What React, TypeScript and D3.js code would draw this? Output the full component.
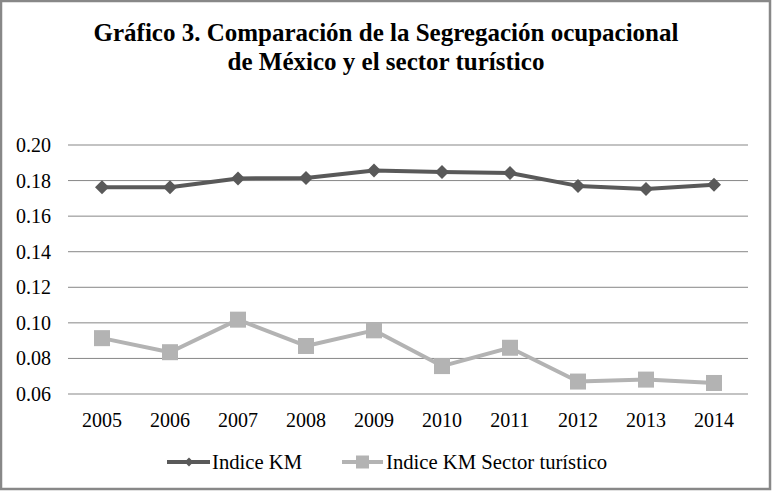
import { useEffect, useRef } from "react"
import * as d3 from "d3"

const years = ["2005", "2006", "2007", "2008", "2009", "2010", "2011", "2012", "2013", "2014"]
const indiceKM = [0.1762, 0.1763, 0.1812, 0.1815, 0.1856, 0.1848, 0.1843, 0.1770, 0.1753, 0.1777]
const indiceKMTurismo = [0.0914, 0.0835, 0.1018, 0.0870, 0.0958, 0.0757, 0.0860, 0.0670, 0.0681, 0.0662]
const yTicks = [0.06, 0.08, 0.10, 0.12, 0.14, 0.16, 0.18, 0.20]

const W = 772
const H = 492
const darkColor = "#595959"
const lightColor = "#b3b3b3"
const font = "Liberation Serif"

export default function App() {
  const svgRef = useRef<SVGSVGElement>(null)

  useEffect(() => {
    if (!svgRef.current) return
    const svg = d3.select(svgRef.current)
    svg.selectAll("*").remove()

    const margin = { top: 145, right: 24, bottom: 98, left: 68 }
    const innerW = W - margin.left - margin.right
    const innerH = H - margin.top - margin.bottom

    svg.append("rect")
      .attr("x", 1).attr("y", 1)
      .attr("width", W - 3).attr("height", H - 4)
      .attr("fill", "#fff")
      .attr("stroke", "#888")
      .attr("stroke-width", 2.5)

    // Title
    const title = svg.append("text")
      .attr("text-anchor", "middle")
      .attr("font-family", font)
      .attr("font-weight", "bold")
      .attr("font-size", 25)
      .attr("fill", "#000")
    title.append("tspan").attr("x", W / 2).attr("y", 41).text("Gráfico 3. Comparación  de la Segregación ocupacional")
    title.append("tspan").attr("x", W / 2).attr("y", 70).text("de México y el sector turístico")

    const g = svg.append("g").attr("transform", `translate(${margin.left},${margin.top})`)

    const x = d3.scaleBand().domain(years).range([0, innerW])
    const y = d3.scaleLinear().domain([0.06, 0.20]).range([innerH, 0])

    // Gridlines
    g.selectAll("line.grid")
      .data(yTicks)
      .enter().append("line")
      .attr("x1", 0).attr("x2", innerW)
      .attr("y1", d => y(d)).attr("y2", d => y(d))
      .attr("stroke", "#878787")
      .attr("stroke-width", 1)

    // Y labels
    g.selectAll("text.ylab")
      .data(yTicks)
      .enter().append("text")
      .attr("x", -17)
      .attr("y", d => y(d) + 7)
      .attr("text-anchor", "end")
      .attr("font-family", font)
      .attr("font-size", 20)
      .text(d => d3.format(".2f")(d))

    // X labels
    g.selectAll("text.xlab")
      .data(years)
      .enter().append("text")
      .attr("x", d => (x(d) ?? 0) + x.bandwidth() / 2)
      .attr("y", innerH + 33)
      .attr("text-anchor", "middle")
      .attr("font-family", font)
      .attr("font-size", 20)
      .text(d => d)

    const cx = (i: number) => (x(years[i]) ?? 0) + x.bandwidth() / 2
    const line = d3.line<number>().x((_, i) => cx(i)).y(d => y(d))

    g.append("path")
      .datum(indiceKMTurismo)
      .attr("d", line)
      .attr("fill", "none")
      .attr("stroke", lightColor)
      .attr("stroke-width", 4)
      .attr("stroke-linejoin", "round")

    g.selectAll("rect.sq")
      .data(indiceKMTurismo)
      .enter().append("rect")
      .attr("x", (_, i) => cx(i) - 8)
      .attr("y", d => y(d) - 8)
      .attr("width", 16).attr("height", 16)
      .attr("fill", lightColor)

    g.append("path")
      .datum(indiceKM)
      .attr("d", line)
      .attr("fill", "none")
      .attr("stroke", darkColor)
      .attr("stroke-width", 4)
      .attr("stroke-linejoin", "round")

    const diamond = d3.symbol().type(d3.symbolDiamond2).size(125)
    g.selectAll("path.dm")
      .data(indiceKM)
      .enter().append("path")
      .attr("d", diamond)
      .attr("transform", (d, i) => `translate(${cx(i)},${y(d)})`)
      .attr("fill", darkColor)

    // Legend
    const legY = 462
    const leg1 = svg.append("g")
    leg1.append("line").attr("x1", 167).attr("x2", 210).attr("y1", legY).attr("y2", legY)
      .attr("stroke", darkColor).attr("stroke-width", 4)
    leg1.append("path").attr("d", d3.symbol().type(d3.symbolDiamond2).size(50))
      .attr("transform", `translate(189,${legY})`).attr("fill", darkColor)
    leg1.append("text").attr("x", 212).attr("y", legY + 7)
      .attr("font-family", font).attr("font-size", 20.7).text("Indice KM")

    const leg2 = svg.append("g")
    leg2.append("line").attr("x1", 342).attr("x2", 383).attr("y1", legY).attr("y2", legY)
      .attr("stroke", lightColor).attr("stroke-width", 4)
    leg2.append("rect").attr("x", 356).attr("y", legY - 6.5).attr("width", 13).attr("height", 13)
      .attr("fill", lightColor)
    leg2.append("text").attr("x", 386).attr("y", legY + 7)
      .attr("font-family", font).attr("font-size", 20.7).text("Indice KM Sector turístico")
  }, [])

  return (
    <svg
      ref={svgRef}
      width={W}
      height={H}
      style={{ display: "block", position: "absolute", left: 0, top: 0 }}
    />
  )
}
